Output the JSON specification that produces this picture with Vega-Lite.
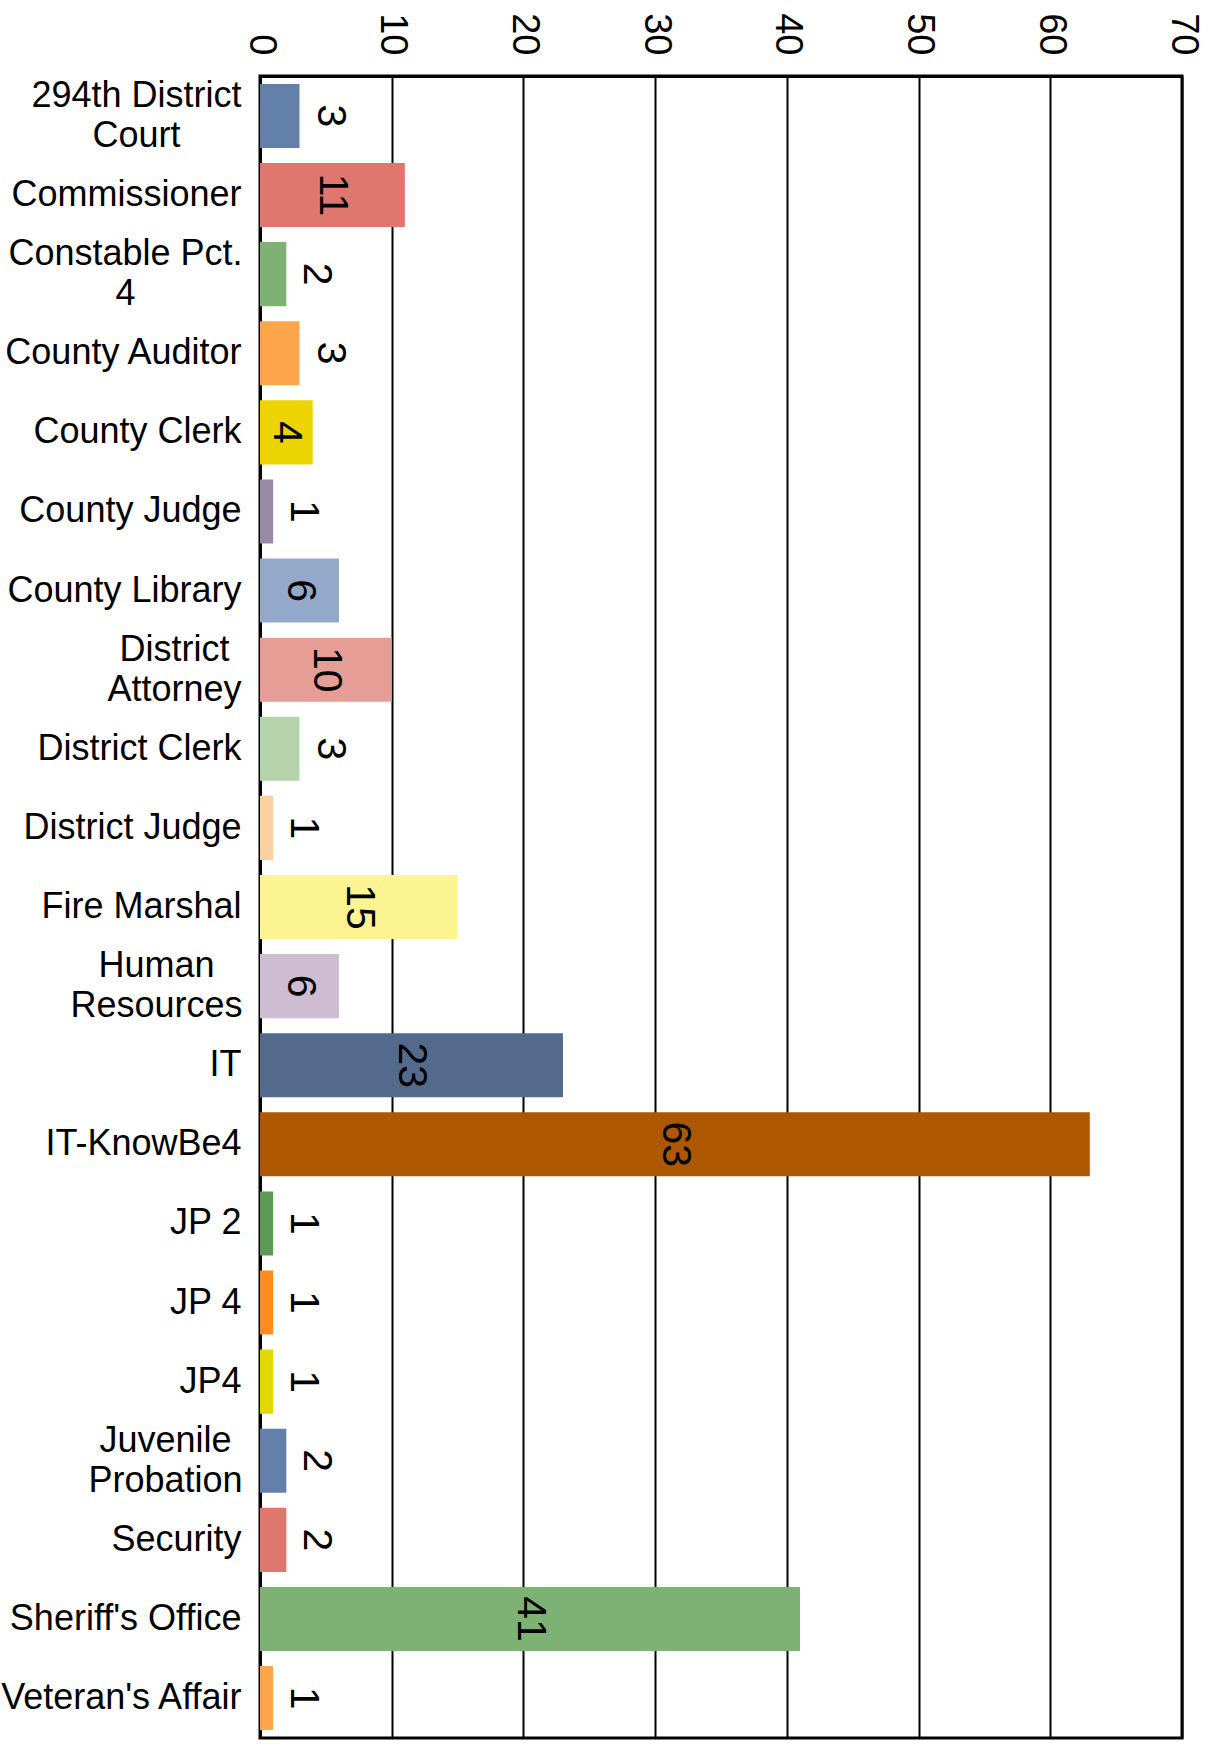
{
  "$schema": "https://vega.github.io/schema/vega-lite/v6.json",
  "autosize": "none",
  "width": 922,
  "height": 1662,
  "padding": {"left": 260, "top": 76, "right": 27, "bottom": 6},
  "background": "white",
  "config": {
    "font": "Liberation Sans",
    "view": {"stroke": "black", "strokeWidth": 3}
  },
  "data": {
    "values": [
      {"dept": "294th District|Court", "count": 3},
      {"dept": "Commissioner", "count": 11},
      {"dept": "Constable Pct.|4", "count": 2},
      {"dept": "County Auditor", "count": 3},
      {"dept": "County Clerk", "count": 4},
      {"dept": "County Judge", "count": 1},
      {"dept": "County Library", "count": 6},
      {"dept": "District|Attorney", "count": 10},
      {"dept": "District Clerk", "count": 3},
      {"dept": "District Judge", "count": 1},
      {"dept": "Fire Marshal", "count": 15},
      {"dept": "Human|Resources", "count": 6},
      {"dept": "IT", "count": 23},
      {"dept": "IT-KnowBe4", "count": 63},
      {"dept": "JP 2", "count": 1},
      {"dept": "JP 4", "count": 1},
      {"dept": "JP4", "count": 1},
      {"dept": "Juvenile|Probation", "count": 2},
      {"dept": "Security", "count": 2},
      {"dept": "Sheriff's Office", "count": 41},
      {"dept": "Veteran's Affair", "count": 1}
    ]
  },
  "resolve": {"scale": {"x": "independent"}},
  "encoding": {
    "y": {
      "field": "dept",
      "type": "nominal",
      "sort": null,
      "scale": {"paddingInner": 0.19, "paddingOuter": 0.1},
      "axis": {
        "title": null,
        "ticks": false,
        "domain": true,
        "domainColor": "black",
        "domainWidth": 3,
        "labelFont": "Liberation Sans",
        "labelFontSize": 36,
        "labelColor": "black",
        "labelLineHeight": 40,
        "labelLimit": 400,
        "labelExpr": "split(datum.label, '|')",
        "labelAlign": {"condition": {"test": "indexof(datum.value, '|') >= 0", "value": "center"}, "value": "right"},
        "labelOffset": {"condition": {"test": "indexof(datum.value, '|') >= 0", "value": -20}, "value": 0},
        "labelPadding": {"condition": [
          {"test": "datum.value == '294th District|Court'", "value": 124},
          {"test": "datum.value == 'Constable Pct.|4'", "value": 135},
          {"test": "datum.value == 'District|Attorney'", "value": 86},
          {"test": "datum.value == 'Human|Resources'", "value": 104},
          {"test": "datum.value == 'Juvenile|Probation'", "value": 95}
        ], "value": 19}
      }
    }
  },
  "layer": [
    {
      "mark": {"type": "bar"},
      "encoding": {
        "x": {
          "field": "count",
          "type": "quantitative",
          "scale": {"domain": [0, 70], "nice": false},
          "axis": {
            "orient": "top",
            "title": null,
            "values": [0, 10, 20, 30, 40, 50, 60, 70],
            "grid": true,
            "gridColor": "black",
            "gridWidth": 2,
            "gridOpacity": 1,
            "ticks": false,
            "domain": true,
            "domainColor": "black",
            "domainWidth": 3,
            "labelAngle": 90,
            "labelAlign": "right",
            "labelBaseline": "middle",
            "labelFont": "Liberation Sans",
            "labelFontSize": 38,
            "labelColor": "black",
            "labelPadding": 21,
            "labelFlush": false,
            "labelOverlap": false
          }
        },
        "color": {
          "field": "dept",
          "type": "nominal",
          "sort": null,
          "legend": null,
          "scale": {
            "range": ["#6380AA", "#E0776F", "#7DB274", "#FDA54A", "#EBD400", "#9B8AA7", "#94A9C9", "#E69D96", "#B5D4AC", "#FDD0A2", "#FCF391", "#CEBDD2", "#536A8D", "#AD5700", "#5C9B55", "#FF8C1E", "#E3D700", "#6380AA", "#E0776F", "#7DB274", "#FDA54A"]
          }
        }
      }
    },
    {
      "transform": [{"filter": "datum.count >= 4"}],
      "mark": {"type": "text", "angle": 90, "align": "center", "baseline": "middle", "fontSize": 41, "font": "Liberation Sans", "color": "black"},
      "encoding": {
        "x": {"field": "count", "type": "quantitative", "scale": {"domain": [0, 140], "nice": false}, "axis": null},
        "text": {"field": "count", "type": "quantitative"}
      }
    },
    {
      "transform": [{"filter": "datum.count < 4"}],
      "mark": {"type": "text", "angle": 90, "align": "center", "baseline": "middle", "dy": -30, "fontSize": 41, "font": "Liberation Sans", "color": "black"},
      "encoding": {
        "x": {"field": "count", "type": "quantitative", "scale": {"domain": [0, 70], "nice": false}, "axis": null},
        "text": {"field": "count", "type": "quantitative"}
      }
    }
  ]
}
